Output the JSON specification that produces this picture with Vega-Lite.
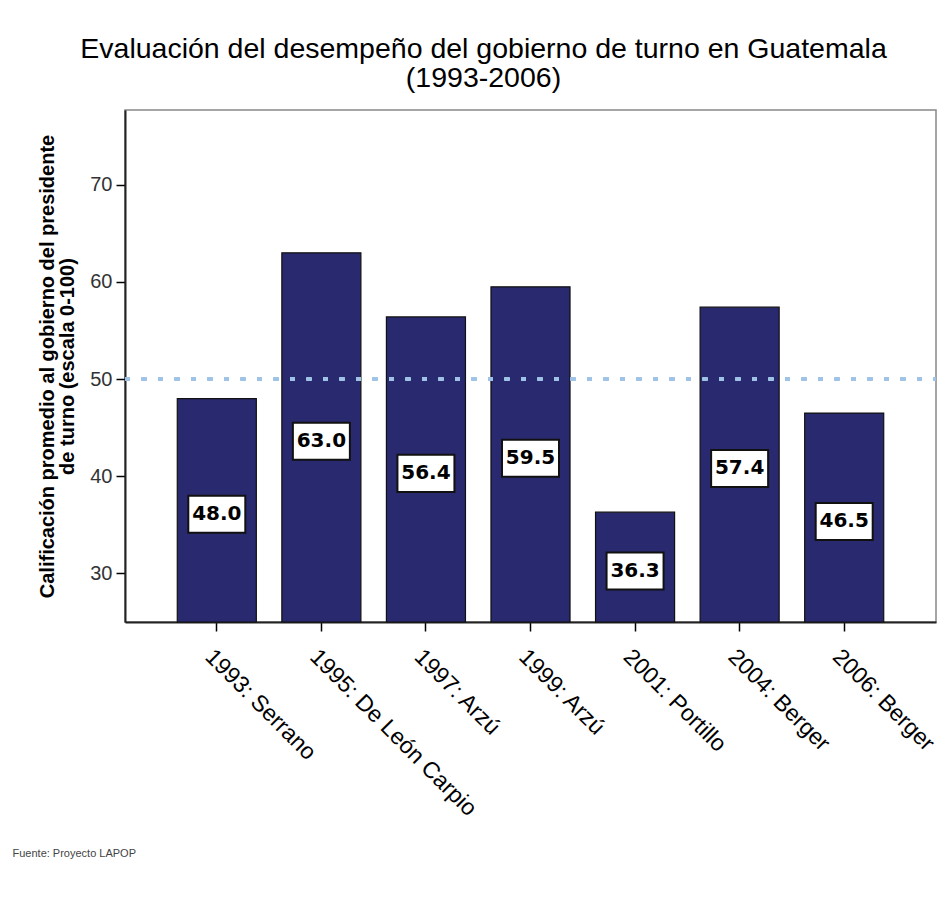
{
  "$schema": "https://vega.github.io/schema/vega-lite/v6.json",
  "width": 811,
  "height": 512,
  "autosize": "none",
  "padding": {"left": 125, "top": 110, "right": 9, "bottom": 285},
  "background": "white",
  "title": {
    "text": ["Evaluación del desempeño del gobierno de turno en Guatemala", "(1993-2006)"],
    "font": "Liberation Sans",
    "fontSize": 28.5,
    "fontWeight": "normal",
    "color": "black",
    "anchor": "middle",
    "dx": -47,
    "offset": 18,
    "lineHeight": 29
  },
  "data": {
    "values": [
      {"label": "1993: Serrano", "value": 48.0},
      {"label": "1995: De León Carpio", "value": 63.0},
      {"label": "1997: Arzú", "value": 56.4},
      {"label": "1999: Arzú", "value": 59.5},
      {"label": "2001: Portillo", "value": 36.3},
      {"label": "2004: Berger", "value": 57.4},
      {"label": "2006: Berger", "value": 46.5}
    ]
  },
  "transform": [{"calculate": "(datum.value + 24.2) / 2", "as": "labelPos"}],
  "encoding": {
    "x": {
      "field": "label",
      "type": "nominal",
      "sort": null,
      "scale": {"paddingInner": 0.244, "paddingOuter": 0.5},
      "axis": {
        "labelAngle": 45,
        "labelAlign": "left",
        "labelBaseline": "top",
        "labelFont": "Liberation Sans",
        "labelFontSize": 23,
        "labelColor": "black",
        "labelPadding": 14,
        "labelLimit": 0,
        "tickSize": 9,
        "tickColor": "black",
        "tickWidth": 1.5,
        "domainColor": "#222",
        "domainWidth": 2,
        "title": "Fuente: Proyecto LAPOP",
        "titleFont": "Liberation Sans",
        "titleFontSize": 11,
        "titleFontWeight": "normal",
        "titleColor": "#444",
        "titleAnchor": "start",
        "titleAlign": "left",
        "titleBaseline": "middle",
        "titleX": -113,
        "titleY": 231
      }
    }
  },
  "layer": [
    {
      "mark": {"type": "bar", "color": "#29296f", "stroke": "#111", "strokeWidth": 1.2},
      "encoding": {
        "y": {
          "field": "value",
          "type": "quantitative",
          "scale": {"domain": [25, 77.7], "zero": false, "nice": false},
          "axis": {
            "values": [30, 40, 50, 60, 70],
            "grid": false,
            "labelFont": "Liberation Sans",
            "labelFontSize": 20,
            "labelColor": "#333",
            "labelPadding": 4,
            "tickSize": 9,
            "tickColor": "black",
            "tickWidth": 1.5,
            "domainColor": "#222",
            "domainWidth": 2,
            "title": ["Calificación promedio al gobierno del presidente", "de turno (escala 0-100)"],
            "titleFont": "Liberation Sans",
            "titleFontSize": 20,
            "titleFontWeight": "bold",
            "titleColor": "black",
            "titlePadding": 12,
            "titleLineHeight": 20
          }
        },
        "y2": {"datum": 25}
      }
    },
    {
      "mark": {"type": "rule", "color": "#9fc3e6", "strokeWidth": 3, "strokeDash": [5, 11.5]},
      "encoding": {"y": {"datum": 50}, "x": {"value": 0}, "x2": {"value": 811}}
    },
    {
      "mark": {
        "type": "point",
        "shape": "M-1,-0.65L1,-0.65L1,0.65L-1,0.65Z",
        "size": 3249,
        "filled": true,
        "fill": "white",
        "opacity": 1,
        "stroke": "#111",
        "strokeWidth": 2
      },
      "encoding": {"y": {"field": "labelPos", "type": "quantitative"}}
    },
    {
      "mark": {
        "type": "text",
        "font": "DejaVu Sans",
        "fontWeight": "bold",
        "fontSize": 20,
        "color": "black",
        "baseline": "middle",
        "align": "center"
      },
      "encoding": {
        "y": {"field": "labelPos", "type": "quantitative"},
        "text": {"field": "value", "type": "quantitative", "format": ".1f"}
      }
    }
  ],
  "config": {
    "view": {"stroke": "#888", "strokeWidth": 1.5}
  }
}
